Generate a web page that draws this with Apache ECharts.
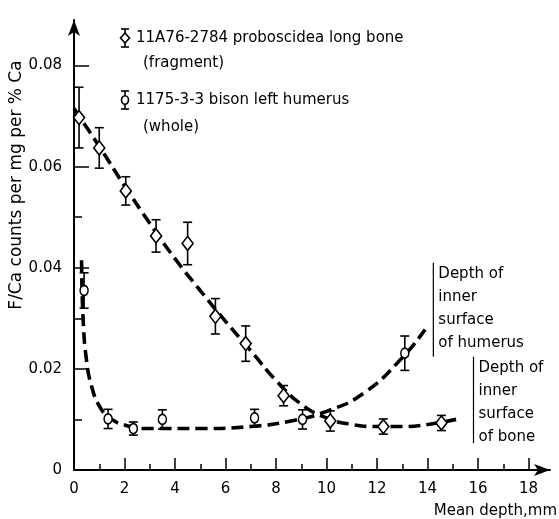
<!DOCTYPE html>
<html>
<head>
<meta charset="utf-8">
<script src="https://cdn.jsdelivr.net/npm/echarts@6/dist/echarts.min.js"></script>
<style>
  html, body { margin: 0; padding: 0; background: #fff; }
  #chart { width: 559px; height: 519px; }
</style>
</head>
<body>
<div id="chart"></div>
<script>
// Sample 11A76-2784, proboscidea long bone (fragment): depth (mm), F/Ca, half error
const boneDepth = [0.2, 1.0, 2.05, 3.25, 4.5, 5.6, 6.8, 8.3, 10.15, 12.25, 14.55];
const boneFCa   = [0.0697, 0.0637, 0.0552, 0.0463, 0.0448, 0.0304, 0.0250, 0.0147, 0.0097, 0.0086, 0.0093];
const boneErr   = [0.0060, 0.0040, 0.0028, 0.0032, 0.0042, 0.0035, 0.0035, 0.0020, 0.0020, 0.0015, 0.0015];

// Sample 1175-3-3, bison left humerus (whole)
const humDepth = [0.4, 1.35, 2.35, 3.5, 7.15, 9.05, 13.1];
const humFCa   = [0.0355, 0.0101, 0.0082, 0.0100, 0.0103, 0.0100, 0.0231];
const humErr   = [0.0035, 0.0019, 0.0013, 0.0019, 0.0017, 0.0019, 0.0034];

// Hand-drawn trend curves
const boneFitX = [0, 1, 2, 3, 4, 5, 6, 7, 8, 9, 10, 11, 12, 13, 14, 15.3];
const boneFitY = [0.0715, 0.0640, 0.0562, 0.0488, 0.0418, 0.0355, 0.0294, 0.0236, 0.0177, 0.0130, 0.0103, 0.0090, 0.0086, 0.0086, 0.0090, 0.0102];
const humFitX = [0.3, 0.36, 0.5, 0.7, 1.0, 1.4, 2.0, 3.0, 5.0, 7.0, 8.5, 10.0, 11.5, 13.0, 13.9];
const humFitY = [0.0415, 0.0300, 0.0215, 0.0165, 0.0127, 0.0104, 0.0089, 0.0082, 0.0082, 0.0086, 0.0096, 0.0116, 0.0153, 0.0222, 0.0278];

// Inner-surface depth markers: depth, lower F/Ca, upper F/Ca, caption
const surfDepth = [14.23, 15.82];
const surfLow   = [0.0224, 0.0053];
const surfHigh  = [0.0410, 0.0224];
const surfText  = ['Depth of\ninner\nsurface\nof humerus', 'Depth of\ninner\nsurface\nof bone'];

// Axis ticks
const xMajorTicks = [0, 2, 4, 6, 8, 10, 12, 14, 16, 18];
const xMinorTicks = [1, 3, 5, 7, 9, 11, 13, 15, 17];
const yMajorTicks = [0, 0.02, 0.04, 0.06, 0.08];
const yMinorTicks = [0.01, 0.03, 0.05, 0.07];

const FONT = 'DejaVu Sans';
const INK = '#000';

const zip = (a, b) => a.map((v, i) => [v, b[i]]);
const bars = (x, y, e) => x.map((v, i) => [v, y[i] - e[i], y[i] + e[i]]);

function errorBar(params, api) {
  const x = api.value(0);
  const lo = api.coord([x, api.value(1)]);
  const hi = api.coord([x, api.value(2)]);
  const w = 4.5;
  const st = { stroke: INK, lineWidth: 1.6, fill: null };
  return {
    type: 'group',
    children: [
      { type: 'line', shape: { x1: hi[0], y1: hi[1], x2: lo[0], y2: lo[1] }, style: st },
      { type: 'line', shape: { x1: hi[0] - w, y1: hi[1], x2: hi[0] + w, y2: hi[1] }, style: st },
      { type: 'line', shape: { x1: lo[0] - w, y1: lo[1], x2: lo[0] + w, y2: lo[1] }, style: st }
    ]
  };
}

function surfaceMark(params, api) {
  const x = api.value(0);
  const lo = api.coord([x, api.value(1)]);
  const hi = api.coord([x, api.value(2)]);
  return {
    type: 'group',
    children: [
      { type: 'line', shape: { x1: hi[0], y1: hi[1], x2: lo[0], y2: lo[1] },
        style: { stroke: INK, lineWidth: 1.2 } },
      { type: 'text', x: hi[0] + 5, y: hi[1],
        style: { text: surfText[params.dataIndex], fill: INK, font: '15px ' + FONT,
                 align: 'left', verticalAlign: 'top', lineHeight: 23 } }
    ]
  };
}

const axisText = { color: INK, fontFamily: FONT, fontSize: 15 };
const dashed = { color: INK, width: 3.6, type: [12, 6] };

const chart = echarts.init(document.getElementById('chart'), null, { renderer: 'canvas' });

chart.setOption({
  backgroundColor: '#fff',
  animation: false,
  grid: { left: 74, right: 9, top: 20, bottom: 49 },
  xAxis: [
    {
      type: 'value', min: 0, max: 18.85, position: 'bottom',
      axisLine: { show: true, symbol: ['none', 'arrow'], symbolSize: [9, 16],
                  lineStyle: { color: INK, width: 2 } },
      axisTick: { show: true, inside: true, length: 12, customValues: xMajorTicks,
                  lineStyle: { color: INK, width: 1.5 } },
      axisLabel: { ...axisText, margin: 12, customValues: xMajorTicks },
      splitLine: { show: false }
    },
    {
      type: 'value', min: 0, max: 18.85, position: 'bottom',
      axisLine: { show: false },
      axisTick: { show: true, inside: true, length: 6, customValues: xMinorTicks,
                  lineStyle: { color: INK, width: 1.5 } },
      axisLabel: { show: false },
      splitLine: { show: false }
    }
  ],
  yAxis: [
    {
      type: 'value', min: 0, max: 0.089, position: 'left',
      axisLine: { show: true, symbol: ['none', 'arrow'], symbolSize: [9, 16],
                  lineStyle: { color: INK, width: 2 } },
      axisTick: { show: true, inside: true, length: 15, customValues: yMajorTicks,
                  lineStyle: { color: INK, width: 1.5 } },
      axisLabel: { ...axisText, margin: 12, customValues: yMajorTicks,
                   formatter: v => (v === 0 ? '0' : v.toFixed(2)) },
      splitLine: { show: false }
    },
    {
      type: 'value', min: 0, max: 0.089, position: 'left',
      axisLine: { show: false },
      axisTick: { show: true, inside: true, length: 8, customValues: yMinorTicks,
                  lineStyle: { color: INK, width: 1.5 } },
      axisLabel: { show: false },
      splitLine: { show: false }
    }
  ],
  series: [
    {
      name: 'bone trend', type: 'line', data: zip(boneFitX, boneFitY),
      smooth: 0.5, showSymbol: false, silent: true, z: 2, lineStyle: dashed
    },
    {
      name: 'humerus trend', type: 'line', data: zip(humFitX, humFitY),
      smooth: 0.5, showSymbol: false, silent: true, z: 2, lineStyle: dashed
    },
    {
      name: '11A76-2784 error', type: 'custom', renderItem: errorBar, z: 3,
      data: bars(boneDepth, boneFCa, boneErr)
    },
    {
      name: '1175-3-3 error', type: 'custom', renderItem: errorBar, z: 3,
      data: bars(humDepth, humFCa, humErr)
    },
    {
      name: '11A76-2784 proboscidea long bone', type: 'scatter', z: 4,
      data: zip(boneDepth, boneFCa), symbol: 'diamond', symbolSize: [11, 14],
      itemStyle: { color: '#fff', borderColor: INK, borderWidth: 1.6, opacity: 1 }
    },
    {
      name: '1175-3-3 bison left humerus', type: 'scatter', z: 4,
      data: zip(humDepth, humFCa), symbol: 'circle', symbolSize: [8, 10],
      itemStyle: { color: '#fff', borderColor: INK, borderWidth: 1.6, opacity: 1 }
    },
    {
      name: 'inner surface', type: 'custom', renderItem: surfaceMark, z: 3,
      data: surfDepth.map((d, i) => [d, surfLow[i], surfHigh[i]])
    }
  ],
  graphic: [
    // axis titles
    { type: 'text', x: 17, y: 185, rotation: Math.PI / 2,
      style: { text: 'F/Ca counts per mg per % Ca', fill: INK, font: '17px ' + FONT,
               align: 'center', verticalAlign: 'middle' } },
    { type: 'text', x: 557, y: 511,
      style: { text: 'Mean depth,mm', fill: INK, font: '15px ' + FONT,
               align: 'right', verticalAlign: 'middle' } },
    // key: proboscidea bone
    { type: 'group', x: 125, y: 38, children: [
      { type: 'line', shape: { x1: 0, y1: -9, x2: 0, y2: 9 }, style: { stroke: INK, lineWidth: 1.6 } },
      { type: 'line', shape: { x1: -4, y1: -9, x2: 4, y2: -9 }, style: { stroke: INK, lineWidth: 1.6 } },
      { type: 'line', shape: { x1: -4, y1: 9, x2: 4, y2: 9 }, style: { stroke: INK, lineWidth: 1.6 } },
      { type: 'polygon', shape: { points: [[0, -5], [4.5, 0], [0, 5], [-4.5, 0]] },
        style: { fill: '#fff', stroke: INK, lineWidth: 1.6 } }
    ] },
    { type: 'text', x: 136, y: 38,
      style: { text: '11A76-2784 proboscidea long bone', fill: INK, font: '15px ' + FONT, verticalAlign: 'middle' } },
    { type: 'text', x: 143, y: 63,
      style: { text: '(fragment)', fill: INK, font: '15px ' + FONT, verticalAlign: 'middle' } },
    // key: bison humerus
    { type: 'group', x: 125, y: 100, children: [
      { type: 'line', shape: { x1: 0, y1: -9, x2: 0, y2: 9 }, style: { stroke: INK, lineWidth: 1.6 } },
      { type: 'line', shape: { x1: -4, y1: -9, x2: 4, y2: -9 }, style: { stroke: INK, lineWidth: 1.6 } },
      { type: 'line', shape: { x1: -4, y1: 9, x2: 4, y2: 9 }, style: { stroke: INK, lineWidth: 1.6 } },
      { type: 'ellipse', shape: { cx: 0, cy: 0, rx: 3.5, ry: 4.2 },
        style: { fill: '#fff', stroke: INK, lineWidth: 1.6 } }
    ] },
    { type: 'text', x: 136, y: 100,
      style: { text: '1175-3-3 bison left humerus', fill: INK, font: '15px ' + FONT, verticalAlign: 'middle' } },
    { type: 'text', x: 143, y: 127,
      style: { text: '(whole)', fill: INK, font: '15px ' + FONT, verticalAlign: 'middle' } }
  ]
});
</script>
</body>
</html>
